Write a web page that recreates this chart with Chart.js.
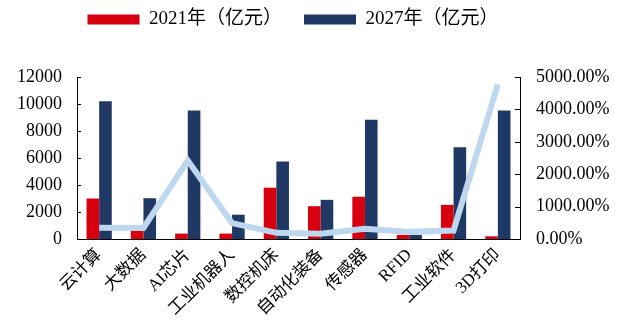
<!DOCTYPE html>
<html>
<head>
<meta charset="utf-8">
<script src="https://cdn.jsdelivr.net/npm/chart.js@4.4.1/dist/chart.umd.min.js"></script>
<style>
  html, body { margin: 0; padding: 0; background: #fff; }
  #wrap { width: 624px; height: 327px; }
</style>
</head>
<body>
<div id="wrap"><canvas id="chart" width="624" height="327"></canvas></div>
<script>
// values
const categories = ['云计算', '大数据', 'AI芯片', '工业机器人', '数控机床', '自动化装备', '传感器', 'RFID', '工业软件', '3D打印'];
const value2021 = [3000, 700, 400, 400, 3800, 2430, 3130, 300, 2530, 200];
const value2027 = [10200, 3020, 9520, 1800, 5740, 2900, 8830, 300, 6800, 9520];
const growthPct = [350, 340, 2420, 490, 190, 160, 315, 220, 260, 4770];
const leftTicks = [0, 2000, 4000, 6000, 8000, 10000, 12000];
const rightTicks = [0, 1000, 2000, 3000, 4000, 5000];

const serif = '"Liberation Serif", "Noto Sans CJK SC", serif';

// short tick marks pointing into the plot, like the original
const innerTicks = {
  id: 'innerTicks',
  afterDraw(chart) {
    const ctx = chart.ctx;
    const y = chart.scales.y, y1 = chart.scales.y1;
    ctx.save();
    ctx.strokeStyle = '#000';
    ctx.lineWidth = 1;
    leftTicks.forEach(v => {
      const py = Math.round(y.getPixelForValue(v)) + 0.5;
      ctx.beginPath(); ctx.moveTo(y.right, py); ctx.lineTo(y.right + 4, py); ctx.stroke();
    });
    rightTicks.forEach(v => {
      const py = Math.round(y1.getPixelForValue(v)) + 0.5;
      ctx.beginPath(); ctx.moveTo(y1.left, py); ctx.lineTo(y1.left - 5, py); ctx.stroke();
    });
    ctx.restore();
  }
};

// legend sits high with a big gap under it, and a bit left of centre
const legendSpace = {
  id: 'legendSpace',
  beforeInit(chart) {
    const legend = chart.legend;
    const fit = legend.fit;
    legend.fit = function () {
      fit.call(this);
      this.height = 89;
    };
  },
  afterLayout(chart) {
    chart.legend.right -= 38;
  }
};

new Chart(document.getElementById('chart'), {
  type: 'bar',
  data: {
    labels: categories,
    datasets: [
      {
        type: 'line',
        label: 'growth',
        data: growthPct,
        yAxisID: 'y1',
        borderColor: '#BDD7EE',
        borderWidth: 6,
        pointRadius: 0,
        tension: 0,
        order: 0
      },
      {
        label: '2021年（亿元）',
        data: value2021,
        backgroundColor: '#D7000F',
        yAxisID: 'y',
        categoryPercentage: 0.57,
        barPercentage: 1.0,
        order: 1
      },
      {
        label: '2027年（亿元）',
        data: value2027,
        backgroundColor: '#1F3864',
        yAxisID: 'y',
        categoryPercentage: 0.57,
        barPercentage: 1.0,
        order: 1
      }
    ]
  },
  options: {
    responsive: false,
    animation: false,
    layout: { padding: { top: -12, left: 0, right: 0, bottom: 0 } },
    plugins: {
      tooltip: { enabled: false },
      legend: {
        position: 'top',
        labels: {
          filter: item => item.text !== 'growth',
          boxWidth: 52,
          boxHeight: 10,
          padding: 22,
          color: '#000',
          font: { family: serif, size: 19 }
        }
      }
    },
    scales: {
      x: {
        grid: { display: false, drawTicks: false },
        border: { display: true, color: '#000', width: 1 },
        afterFit: s => { s.height = 88; },
        ticks: {
          color: '#000',
          maxRotation: 45,
          minRotation: 45,
          padding: 6,
          font: { family: serif, size: 17 }
        }
      },
      y: {
        position: 'left',
        min: 0,
        max: 12000,
        grid: { display: false, drawTicks: false },
        border: { display: true, color: '#000', width: 1 },
        afterFit: s => { s.width = 77; },
        ticks: {
          stepSize: 2000,
          color: '#000',
          padding: 15,
          font: { family: serif, size: 18 },
          callback: v => String(v)
        }
      },
      y1: {
        position: 'right',
        min: 0,
        max: 5000,
        grid: { display: false, drawTicks: false },
        border: { display: true, color: '#000', width: 1 },
        afterFit: s => { s.width = 104; },
        ticks: {
          stepSize: 1000,
          color: '#000',
          padding: 16,
          font: { family: serif, size: 18 },
          callback: v => v.toFixed(2) + '%'
        }
      }
    }
  },
  plugins: [innerTicks, legendSpace]
});
</script>
</body>
</html>
